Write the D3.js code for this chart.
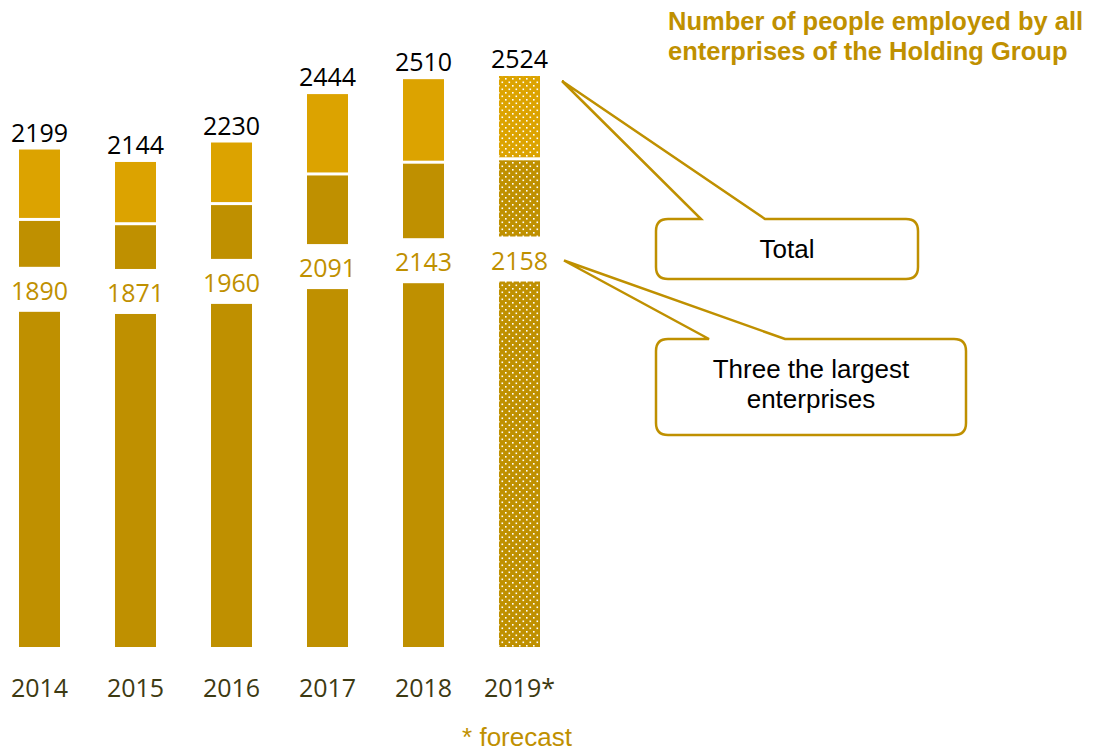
<!DOCTYPE html>
<html>
<head>
<meta charset="utf-8">
<script src="https://cdn.jsdelivr.net/npm/d3@7"></script>
<style>
  html, body { margin: 0; padding: 0; background: #fff; }
  svg { display: block; }
</style>
</head>
<body>
<svg id="chart" width="1104" height="751"></svg>
<script>
// chart data
const years = ["2014", "2015", "2016", "2017", "2018", "2019*"];
const total = [2199, 2144, 2230, 2444, 2510, 2524];
const threeLargest = [1890, 1871, 1960, 2091, 2143, 2158];
const forecast = [false, false, false, false, false, true];

const titleLines = ["Number of people employed by all", "enterprises of the Holding Group"];

const gold = "#BF9000";
const goldLight = "#DCA300";
const yearColor = "#3D3A12";

const svg = d3.select("#chart");

const x = d3.scaleBand()
  .domain(years)
  .range([-36, 595])
  .padding(0.573);

const y = d3.scaleLinear()
  .domain([0, 2524])
  .range([647, 76]);

const data = years.map((yr, i) => ({
  year: yr,
  total: total[i],
  three: threeLargest[i],
  forecast: forecast[i]
}));

// label of the three largest sits half way between its level and 1250
const labelMid = d => (y(d.three) + y(1250)) / 2 - 1;

// dotted patterns for the forecast bar
const defs = svg.append("defs");
function dotPattern(id, fill) {
  const p = defs.append("pattern")
    .attr("id", id)
    .attr("patternUnits", "userSpaceOnUse")
    .attr("width", 7)
    .attr("height", 7);
  p.append("rect").attr("width", 7).attr("height", 7).attr("fill", fill);
  p.append("rect").attr("x", 1).attr("y", 1).attr("width", 1.6).attr("height", 1.6).attr("fill", "#fff");
  p.append("rect").attr("x", 4.5).attr("y", 4.5).attr("width", 1.6).attr("height", 1.6).attr("fill", "#fff");
}
dotPattern("dotDark", gold);
dotPattern("dotLight", goldLight);

const bars = svg.append("g")
  .selectAll("g")
  .data(data)
  .enter().append("g");

// three largest enterprises (lower part)
bars.append("rect")
  .attr("x", d => x(d.year))
  .attr("width", x.bandwidth())
  .attr("y", d => y(d.three) + 1.5)
  .attr("height", d => y(0) - y(d.three) - 1.5)
  .attr("fill", d => d.forecast ? "url(#dotDark)" : gold);

// rest of the group (upper part)
bars.append("rect")
  .attr("x", d => x(d.year))
  .attr("width", x.bandwidth())
  .attr("y", d => y(d.total))
  .attr("height", d => y(d.three) - y(d.total) - 1.5)
  .attr("fill", d => d.forecast ? "url(#dotLight)" : goldLight);

// white gap behind the three-largest label
bars.append("rect")
  .attr("x", d => x(d.year) - 1)
  .attr("width", x.bandwidth() + 2)
  .attr("y", d => labelMid(d) - 24)
  .attr("height", 45)
  .attr("fill", "#fff");

bars.append("text")
  .attr("x", d => x(d.year) + x.bandwidth() / 2)
  .attr("y", d => labelMid(d))
  .attr("dy", "0.36em")
  .attr("text-anchor", "middle")
  .style("font-family", "'Open Sans', sans-serif")
  .style("font-size", "25px")
  .style("fill", gold)
  .text(d => d.three);

bars.append("text")
  .attr("x", d => x(d.year) + x.bandwidth() / 2)
  .attr("y", d => y(d.total) - 8)
  .attr("text-anchor", "middle")
  .style("font-family", "'Open Sans', sans-serif")
  .style("font-size", "25px")
  .style("fill", "#000")
  .text(d => d.total);

// year axis
const xAxis = svg.append("g")
  .attr("transform", "translate(0,697)")
  .call(d3.axisBottom(x).tickSize(0).tickPadding(0));
xAxis.select(".domain").remove();
xAxis.selectAll("text")
  .attr("dy", 0)
  .style("font-family", "'Open Sans', sans-serif")
  .style("font-size", "25px")
  .style("fill", yearColor);

// title
svg.append("text")
  .attr("x", 668)
  .attr("y", 30)
  .style("font-family", "'Liberation Sans', Arial, sans-serif")
  .style("font-weight", "bold")
  .style("font-size", "25.5px")
  .style("fill", gold)
  .selectAll("tspan")
  .data(titleLines)
  .enter().append("tspan")
  .attr("x", 668)
  .attr("dy", (d, i) => i === 0 ? 0 : 30)
  .text(d => d);

svg.append("text")
  .attr("x", 517)
  .attr("y", 746)
  .attr("text-anchor", "middle")
  .style("font-family", "'Liberation Sans', Arial, sans-serif")
  .style("font-size", "26px")
  .style("fill", gold)
  .text("* forecast");

// callouts pointing at the forecast bar
const last = data[data.length - 1];
const tipX = x(last.year) + x.bandwidth() + 22;

function callout(box, base, tip, lines, firstBaseline) {
  const r = 12;
  const { x0, y0, x1, y1 } = box;
  const path = d3.path();
  path.moveTo(x0 + r, y0);
  path.lineTo(base[0], y0);
  path.lineTo(tip[0], tip[1]);
  path.lineTo(base[1], y0);
  path.lineTo(x1 - r, y0);
  path.quadraticCurveTo(x1, y0, x1, y0 + r);
  path.lineTo(x1, y1 - r);
  path.quadraticCurveTo(x1, y1, x1 - r, y1);
  path.lineTo(x0 + r, y1);
  path.quadraticCurveTo(x0, y1, x0, y1 - r);
  path.lineTo(x0, y0 + r);
  path.quadraticCurveTo(x0, y0, x0 + r, y0);
  path.closePath();

  svg.append("path")
    .attr("d", path.toString())
    .attr("fill", "#fff")
    .attr("stroke", gold)
    .attr("stroke-width", 2.5)
    .attr("stroke-linejoin", "miter");

  svg.append("text")
    .attr("text-anchor", "middle")
    .style("font-family", "'Liberation Sans', Arial, sans-serif")
    .style("font-size", "26px")
    .style("fill", "#000")
    .selectAll("tspan")
    .data(lines)
    .enter().append("tspan")
    .attr("x", (x0 + x1) / 2)
    .attr("y", (d, i) => firstBaseline + i * 30)
    .text(d => d);
}

callout({ x0: 656, y0: 219, x1: 918, y1: 279 }, [701, 765],
  [tipX, y(last.total) + 5], ["Total"], 258);
callout({ x0: 656, y0: 339, x1: 966, y1: 435 }, [709, 785],
  [tipX + 2, labelMid(last)], ["Three the largest", "enterprises"], 378);
</script>
</body>
</html>
